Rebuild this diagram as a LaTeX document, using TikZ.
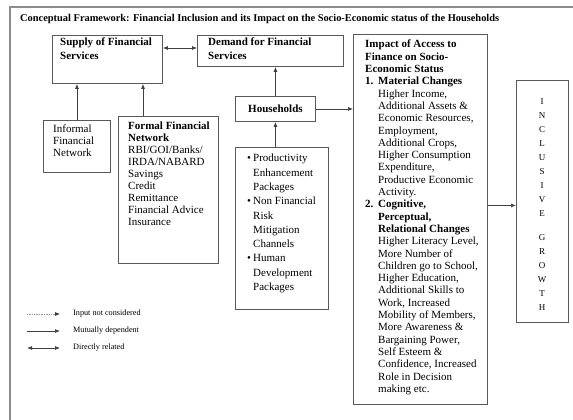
\documentclass[tikz,border=0pt]{standalone}
\usepackage{fontspec}
\setmainfont{Liberation Serif}
\usetikzlibrary{arrows.meta,calc}
\begin{document}
\begin{tikzpicture}[x=1pt,y=-1pt,
  box/.style={draw=black!65,line width=0.9pt,inner sep=0pt,anchor=north west},
  txt/.style={inner sep=0pt,anchor=north west,align=left},
  arr/.style={draw=black!75,line width=0.7pt,-{Latex[length=5pt,width=4pt]}},
  darr/.style={draw=black!75,line width=0.7pt,{Latex[length=5pt,width=4pt]}-{Latex[length=5pt,width=4pt]}},
  fhead/.style={font=\fontsize{11}{14}\selectfont\bfseries},
  fbody/.style={font=\fontsize{11}{12}\selectfont},
  fimp/.style={font=\fontsize{11}{12.3}\selectfont},
  fbul/.style={font=\fontsize{11}{14.3}\selectfont},
  fleg/.style={font=\fontsize{8.2}{9}\selectfont}]
\useasboundingbox (0,0) rectangle (573,420);
\fill[white] (0,0) rectangle (573,420);
\draw[black!45,line width=1.5pt] (10,430) -- (10,7) -- (580,7);

% title
\node[txt,font=\fontsize{10.4}{12}\selectfont\bfseries] (title) at (20,14)
  {Conceptual Framework: Financial Inclusion and its Impact on the Socio-Economic status of the Households};

% boxes
\node[box,minimum width=110pt,minimum height=48pt] (supply) at (52,35) {};
\node[box,minimum width=146pt,minimum height=31pt] (demand) at (197,35) {};
\node[box,minimum width=80pt,minimum height=25pt,font=\fontsize{11}{13}\selectfont\bfseries] (households) at (235,96) {Households};
\node[box,minimum width=134pt,minimum height=370pt] (impact) at (353,34) {};
\node[box,minimum width=52pt,minimum height=242pt] (growth) at (516,80) {};
\node[box,minimum width=67pt,minimum height=52pt] (informal) at (43,120) {};
\node[box,minimum width=100pt,minimum height=147pt] (formal) at (118,116) {};
\node[box,minimum width=93pt,minimum height=162pt] (bullets) at (235,147) {};

% texts
\node[txt,fhead] (supplyt) at (60,38) {Supply of Financial\\Services};
\node[txt,fhead] (demandt) at (208,38) {Demand for Financial\\Services};
\node[txt,fbody] (informalt) at (53,125) {Informal\\Financial\\Network};
\node[txt,fbody] (formalt) at (128,122) {\textbf{Formal Financial}\\\textbf{Network}\\RBI/GOI/Banks/\\IRDA/NABARD\\Savings\\Credit\\Remittance\\Financial Advice\\Insurance};
\node[txt,fbul] (bulletst) at (247,154) {%
\makebox[6pt][l]{\textbullet}Productivity\\
\hspace*{6pt}Enhancement\\
\hspace*{6pt}Packages\\
\makebox[6pt][l]{\textbullet}Non Financial\\
\hspace*{6pt}Risk\\
\hspace*{6pt}Mitigation\\
\hspace*{6pt}Channels\\
\makebox[6pt][l]{\textbullet}Human\\
\hspace*{6pt}Development\\
\hspace*{6pt}Packages};
\node[txt,fimp] (impactt) at (365,40) {%
\textbf{Impact of Access to}\\
\textbf{Finance on Socio-}\\
\textbf{Economic Status}\\
\textbf{\makebox[13pt][l]{1.}Material Changes}\\
\hspace*{13pt}Higher Income,\\
\hspace*{13pt}Additional Assets \&\\
\hspace*{13pt}Economic Resources,\\
\hspace*{13pt}Employment,\\
\hspace*{13pt}Additional Crops,\\
\hspace*{13pt}Higher Consumption\\
\hspace*{13pt}Expenditure,\\
\hspace*{13pt}Productive Economic\\
\hspace*{13pt}Activity.\\
\textbf{\makebox[13pt][l]{2.}Cognitive,}\\
\hspace*{13pt}\textbf{Perceptual,}\\
\hspace*{13pt}\textbf{Relational Changes}\\
\hspace*{13pt}Higher Literacy Level,\\
\hspace*{13pt}More Number of\\
\hspace*{13pt}Children go to School,\\
\hspace*{13pt}Higher Education,\\
\hspace*{13pt}Additional Skills to\\
\hspace*{13pt}Work, Increased\\
\hspace*{13pt}Mobility of Members,\\
\hspace*{13pt}More Awareness \&\\
\hspace*{13pt}Bargaining Power,\\
\hspace*{13pt}Self Esteem \&\\
\hspace*{13pt}Confidence, Increased\\
\hspace*{13pt}Role in Decision\\
\hspace*{13pt}making etc.};
\node[inner sep=0pt,align=center,font=\fontsize{9}{14}\selectfont] (growtht) at (542,205)
  {I\\N\\C\\L\\U\\S\\I\\V\\E\\[10pt]G\\R\\O\\W\\T\\H};

% connectors
\draw[darr] ($(supply.north east)+(0,13)$) -- ($(demand.north west)+(0,13)$);
\draw[arr] (informal.north) -- (informal.north |- supply.south);
\coordinate (fa) at ([xshift=25pt]formal.north west);
\draw[arr] (fa) -- (fa |- supply.south);
\draw[arr] (households.north) -- (households.north |- demand.south);
\draw[arr] (households.south |- bullets.north) -- (households.south);
\draw[arr] (households.east) -- (households.east -| impact.west);
\draw[arr] ([yshift=-4pt]growth.west -| impact.east) -- ([yshift=-4pt]growth.west);

% legend
\coordinate (l1a) at (27,314); \coordinate (l1b) at (60,314);
\coordinate (l2a) at (27,331); \coordinate (l2b) at (60,331);
\coordinate (l3a) at (27,348); \coordinate (l3b) at (60,348);
\draw[arr,draw=black!40,densely dotted,-{Latex[length=5pt,width=4pt,color=black!80]}] (l1a) -- (l1b);
\draw[arr] (l2a) -- (l2b);
\draw[darr] (l3a) -- (l3b);
\node[fleg,anchor=west,inner sep=0pt] (lg1) at (73,314) {Input not considered};
\node[fleg,anchor=west,inner sep=0pt] (lg2) at (73,331) {Mutually dependent};
\node[fleg,anchor=west,inner sep=0pt] (lg3) at (73,348) {Directly related};
\end{tikzpicture}
\end{document}
